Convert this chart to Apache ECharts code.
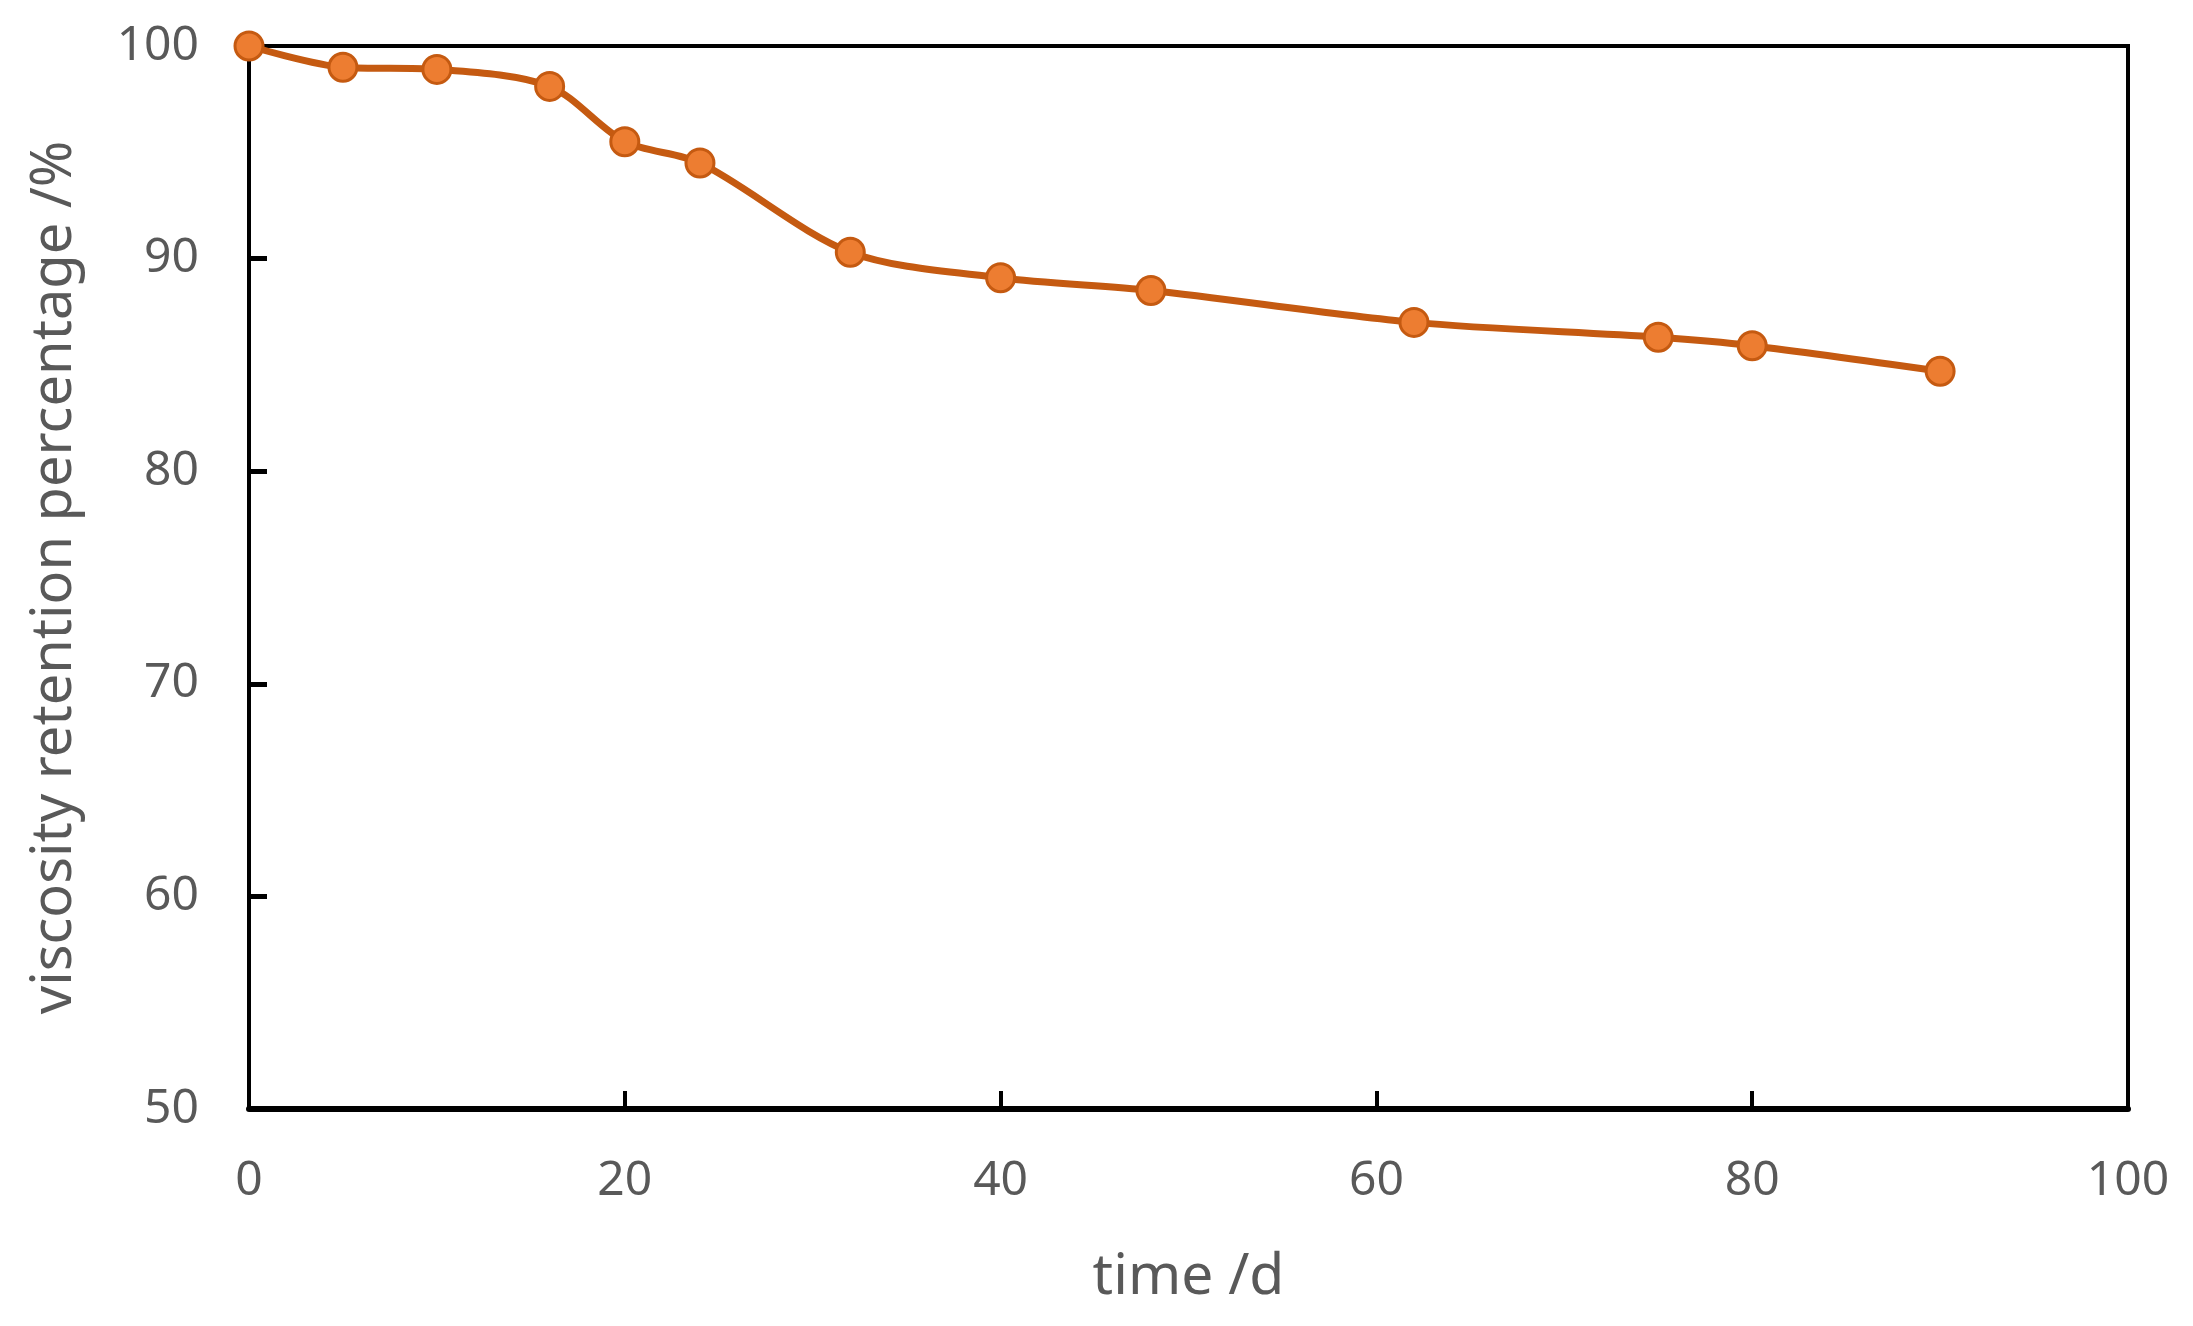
<!DOCTYPE html>
<html><head><meta charset="utf-8">
<script src="https://cdn.jsdelivr.net/npm/echarts@6/dist/echarts.min.js"></script>
<style>html,body{margin:0;padding:0;background:#fff}#c{width:2193px;height:1326px}</style>
</head><body><div id="c"></div>
<script>
const days = [0, 5, 10, 16, 20, 24, 32, 40, 48, 62, 75, 80, 90];
const retention = [100, 99.0, 98.9, 98.1, 95.5, 94.5, 90.3, 89.1, 88.5, 87.0, 86.3, 85.9, 84.7];
const xTitle = 'time /d';
const yTitle = 'viscosity retention percentage /%';

const chart = echarts.init(document.getElementById('c'));
const font = '"Noto Sans", sans-serif';
chart.setOption({
  animation: false,
  grid: { left: 249, right: 65, top: 46, bottom: 217, show: true, borderColor: '#000', borderWidth: 4, backgroundColor: 'transparent' },
  xAxis: {
    type: 'value', min: 0, max: 100, interval: 20,
    name: xTitle, nameLocation: 'middle', nameGap: 140,
    nameTextStyle: { fontFamily: font, fontSize: 57, color: '#595959' },
    axisLine: { show: true, onZero: false, lineStyle: { color: '#000', width: 6 } },
    axisTick: { show: true, inside: true, length: 18, lineStyle: { color: '#000', width: 4 } },
    axisLabel: { fontFamily: font, fontSize: 48, color: '#595959', margin: 48 },
    splitLine: { show: false }
  },
  yAxis: {
    type: 'value', min: 50, max: 100, interval: 10,
    name: yTitle, nameLocation: 'middle', nameGap: 166,
    nameTextStyle: { fontFamily: font, fontSize: 56, color: '#595959' },
    axisLine: { show: true, onZero: false, lineStyle: { color: '#000', width: 4 } },
    axisTick: { show: true, inside: true, length: 18, lineStyle: { color: '#000', width: 5 } },
    axisLabel: { fontFamily: font, fontSize: 48, color: '#595959', margin: 50 },
    splitLine: { show: false }
  },
  series: [{
    type: 'line',
    data: days.map((d, i) => [d, retention[i]]),
    smooth: 0.3,
    symbol: 'circle', symbolSize: 28,
    lineStyle: { color: '#C55A11', width: 7 },
    itemStyle: { color: '#ED7D31', borderColor: '#C55A11', borderWidth: 3 },
    clip: false
  }]
});
</script></body></html>
